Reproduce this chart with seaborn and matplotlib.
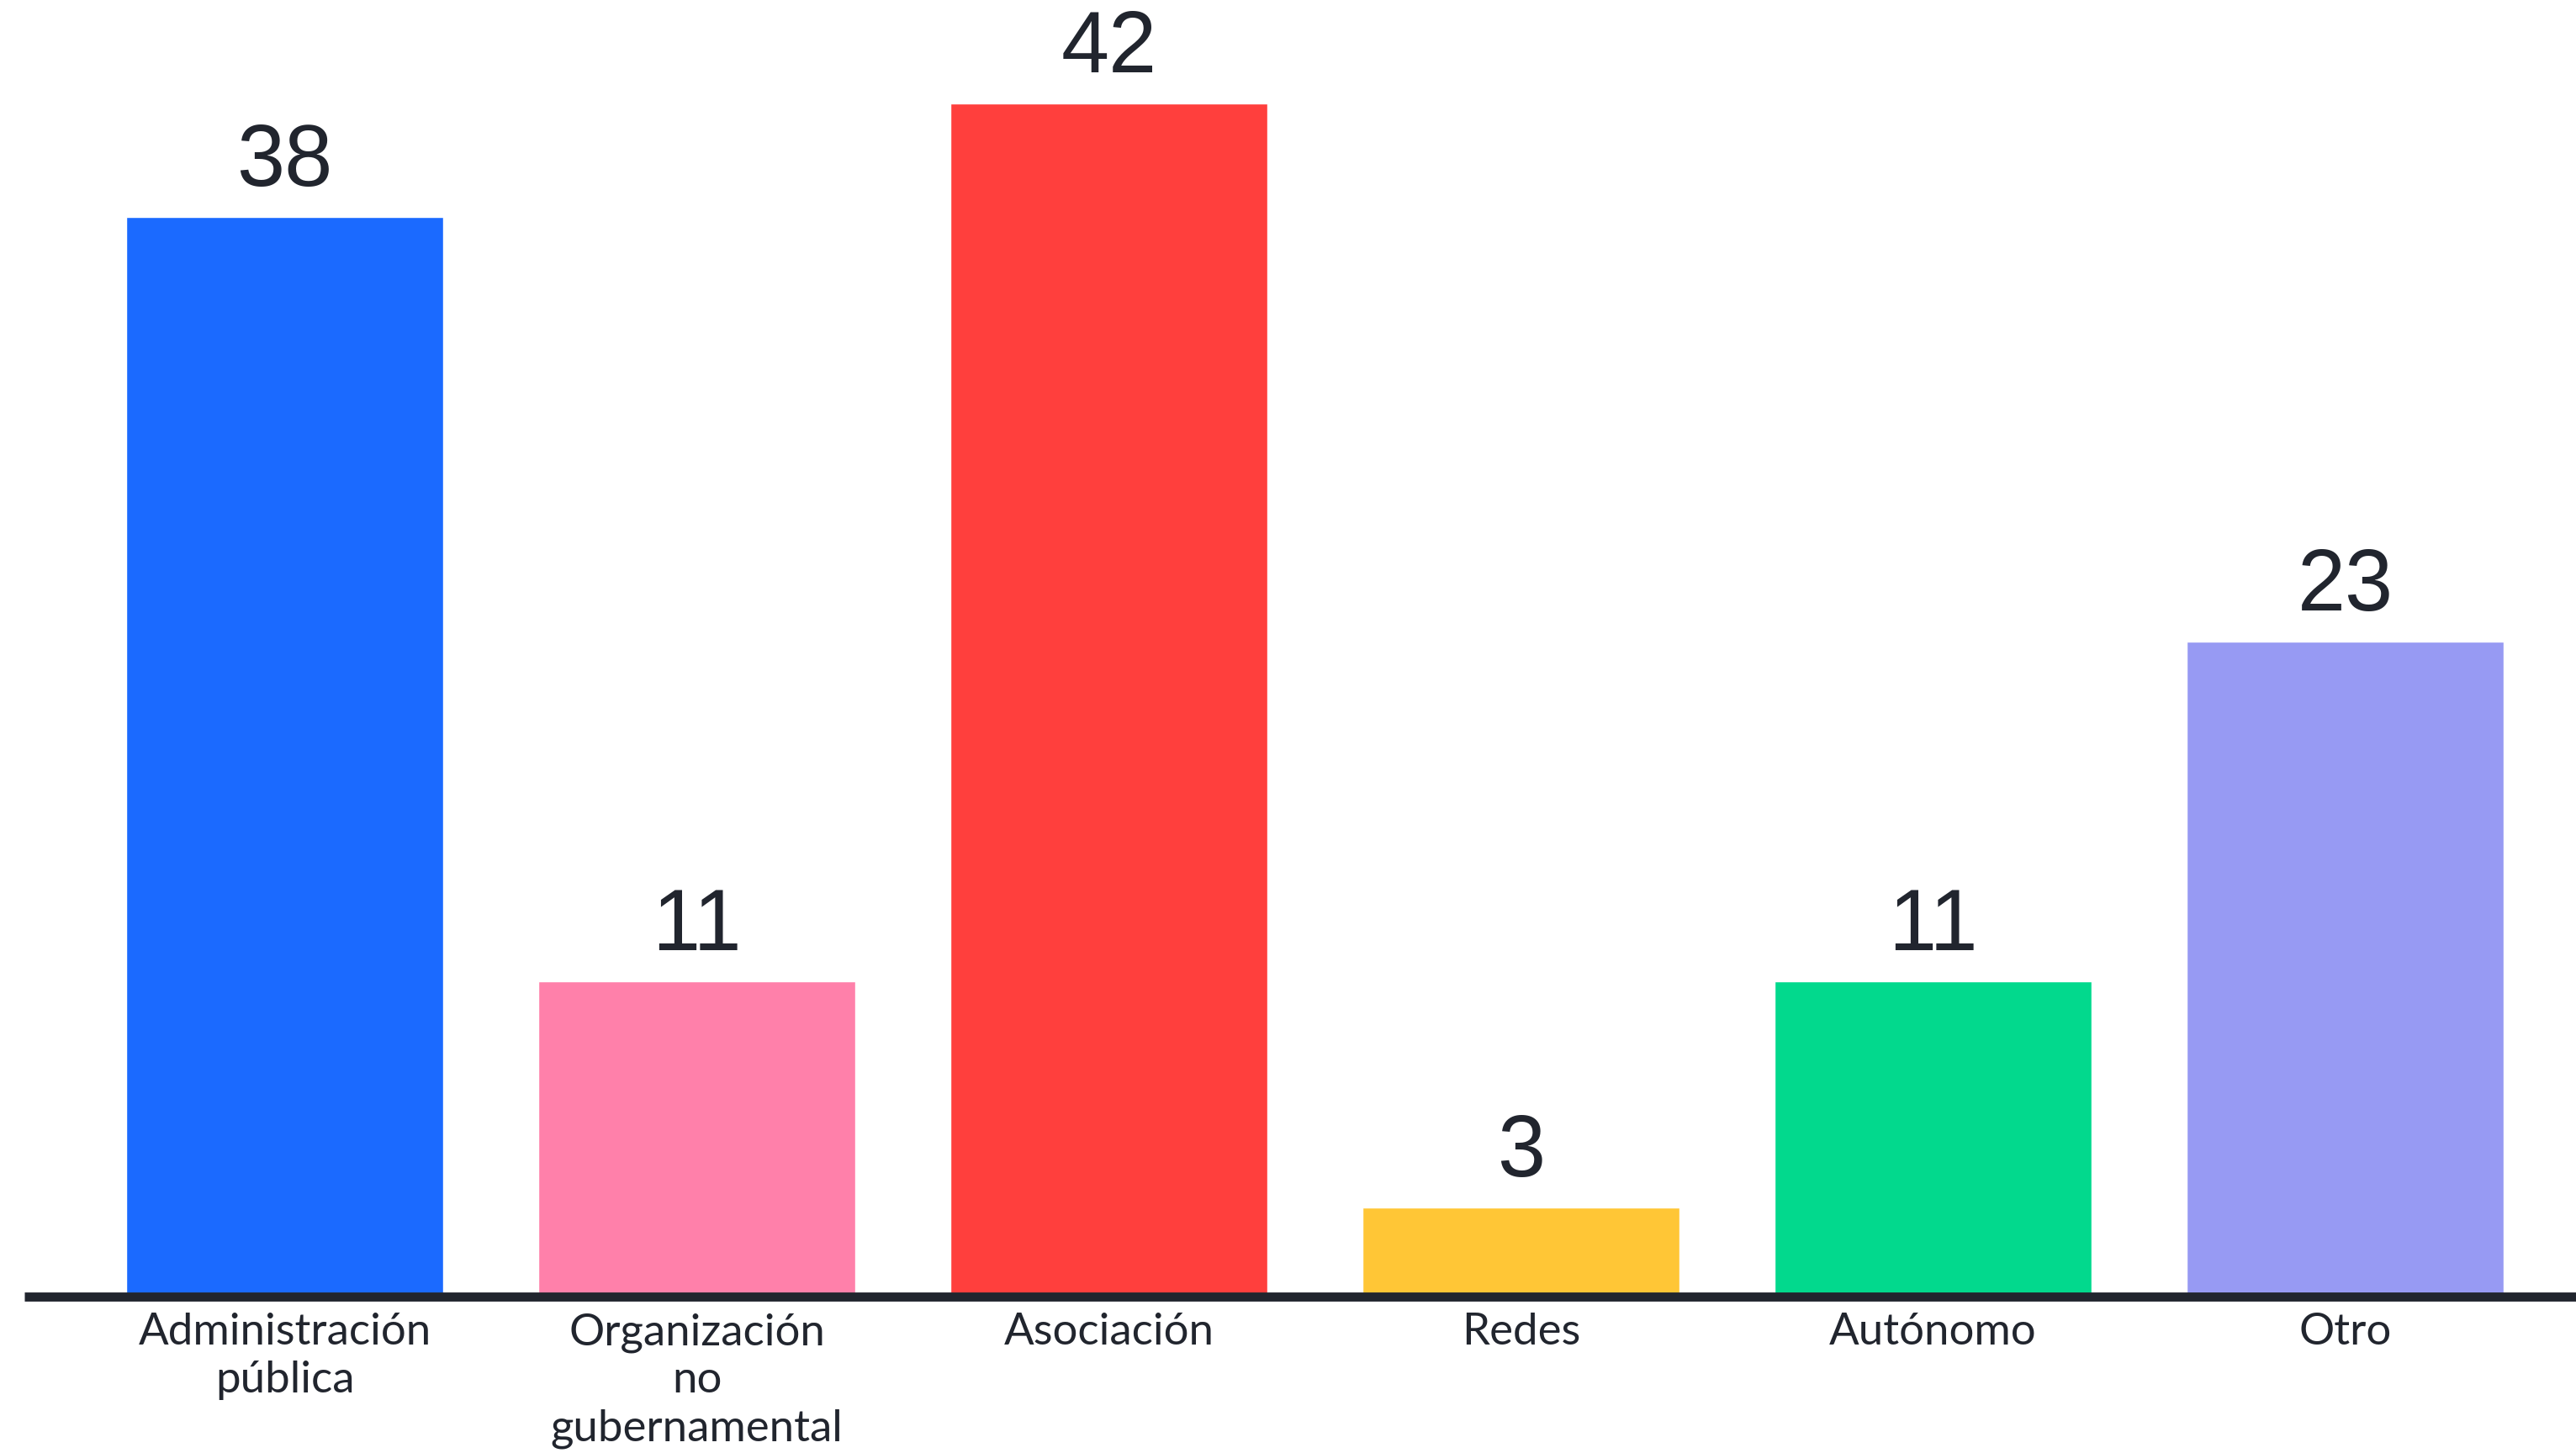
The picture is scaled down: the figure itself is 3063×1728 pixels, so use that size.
import matplotlib
matplotlib.use("Agg")
import matplotlib.pyplot as plt
import seaborn as sns
import pandas as pd

categories = ["Administración\npública", "Organización\nno\ngubernamental", "Asociación",
              "Redes", "Autónomo", "Otro"]
values = [38, 11, 42, 3, 11, 23]
colors = ["#1B6AFF", "#FF80AA", "#FF3F3D", "#FFC636", "#02D98D", "#979AF3"]

sns.set_theme(style="white")
plt.rcParams['font.family'] = ['Lato', 'DejaVu Sans']

df = pd.DataFrame({"cat": categories, "val": values})

W, H, DPI = 3063, 1728, 100
PXU = 33.67          # pixels per unit
ZERO = 1537.5        # pixel row of value 0 (from top)
LINE = 1542          # pixel row of baseline rule

fig = plt.figure(figsize=(W / DPI, H / DPI), dpi=DPI)
fig.patch.set_facecolor("white")
ax = fig.add_axes([29 / W, (H - ZERO) / H, 1 - 29 / W, ZERO / H])

sns.barplot(data=df, x="cat", y="val", hue="cat", palette=colors, legend=False,
            saturation=1, width=0.77, ax=ax, zorder=1)

ax.set_xlim(-0.632, 5.56)
ax.set_ylim(0, ZERO / PXU)
ax.axhline((ZERO - LINE) / PXU, color="#21252E", linewidth=7.8, zorder=5,
           clip_on=False, solid_capstyle="butt")

for i, v in enumerate(values):
    ax.annotate(str(v), xy=(i, v), xytext=(0, 27), textcoords="offset points",
                ha="center", va="baseline", fontsize=74, color="#21252E",
                family=["Liberation Sans", "DejaVu Sans"])

for s in ["top", "left", "right", "bottom"]:
    ax.spines[s].set_visible(False)
ax.set_yticks([])
ax.set_xlabel("")
ax.set_ylabel("")
ax.tick_params(axis="x", length=0, pad=17, labelsize=38, labelcolor="#21252E")
for t in ax.get_xticklabels():
    t.set_linespacing(1.26)
ax.set_facecolor("white")

fig.savefig("out.png", dpi=DPI, facecolor="white")
